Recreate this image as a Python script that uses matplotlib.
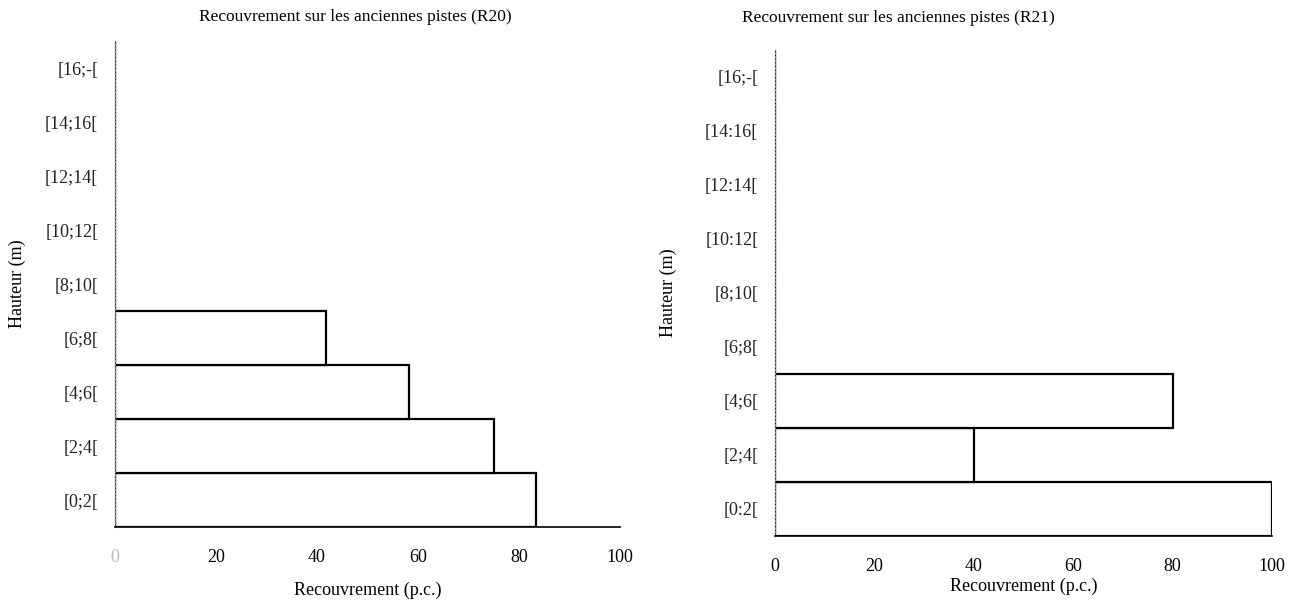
import matplotlib
matplotlib.use("Agg")
import matplotlib.pyplot as plt

plt.rcParams['font.family'] = ['Liberation Serif', 'DejaVu Serif']

# classes de hauteur (m)
classes_r20 = ['[0;2[', '[2;4[', '[4;6[', '[6;8[', '[8;10[', '[10;12[', '[12;14[', '[14;16[', '[16;-[']
classes_r21 = ['[0:2[', '[2;4[', '[4;6[', '[6;8[', '[8;10[', '[10:12[', '[12:14[', '[14:16[', '[16;-[']

# recouvrement (p.c.)
recouv_r20 = [83.3, 75.0, 58.3, 41.7, 0, 0, 0, 0, 0]
recouv_r21 = [100.0, 40.0, 80.0, 0, 0, 0, 0, 0, 0]

xticks = [0, 20, 40, 60, 80, 100]

fig = plt.figure(figsize=(12.92, 6.06), dpi=100)
W, H = 1292, 606


def make_ax(x0, x1, ytop, ybot):
    return fig.add_axes([x0 / W, 1 - ybot / H, (x1 - x0) / W, (ybot - ytop) / H])


ax1 = make_ax(115, 620, 41, 527)
ax2 = make_ax(775, 1272, 50, 536)

for ax, cls, vals in [(ax1, classes_r20, recouv_r20), (ax2, classes_r21, recouv_r21)]:
    pos = range(len(cls))
    ax.barh(pos, vals, height=1.0, color='white', edgecolor='black', linewidth=1.6)
    ax.set_ylim(-0.5, len(cls) - 0.5)
    ax.set_xlim(0, 100)
    ax.set_yticks(list(pos))
    ax.set_yticklabels(cls, fontsize=13, color='#222222')
    ax.set_xticks(xticks)
    ax.set_xticklabels([str(t) for t in xticks], fontsize=13)
    ax.tick_params(axis='x', length=0)
    ax.tick_params(axis='y', length=0, pad=12)
    for s in ['top', 'right']:
        ax.spines[s].set_visible(False)
    ax.spines['left'].set_linestyle(':')
    ax.spines['left'].set_color('#888888')
    ax.spines['left'].set_linewidth(1.0)
    ax.spines['bottom'].set_color('black')
    ax.spines['bottom'].set_linewidth(1.2)

ax1.tick_params(axis='x', pad=16)
ax1.get_xticklabels()[0].set_color('#bbbbbb')
ax2.tick_params(axis='x', pad=16)

ax1.set_xlabel('Recouvrement (p.c.)', fontsize=13, labelpad=11)
ax2.set_xlabel('Recouvrement (p.c.)', fontsize=13, labelpad=2)
ax1.set_ylabel('Hauteur (m)', fontsize=13, labelpad=14)
ax2.set_ylabel('Hauteur (m)', fontsize=13, labelpad=20)

fig.text(355 / W, 1 - 17 / H, 'Recouvrement sur les anciennes pistes (R20)',
         ha='center', va='center', fontsize=12.5)
fig.text(898 / W, 1 - 18 / H, 'Recouvrement sur les anciennes pistes (R21)',
         ha='center', va='center', fontsize=12.5)

fig.savefig('out.png', dpi=100)
